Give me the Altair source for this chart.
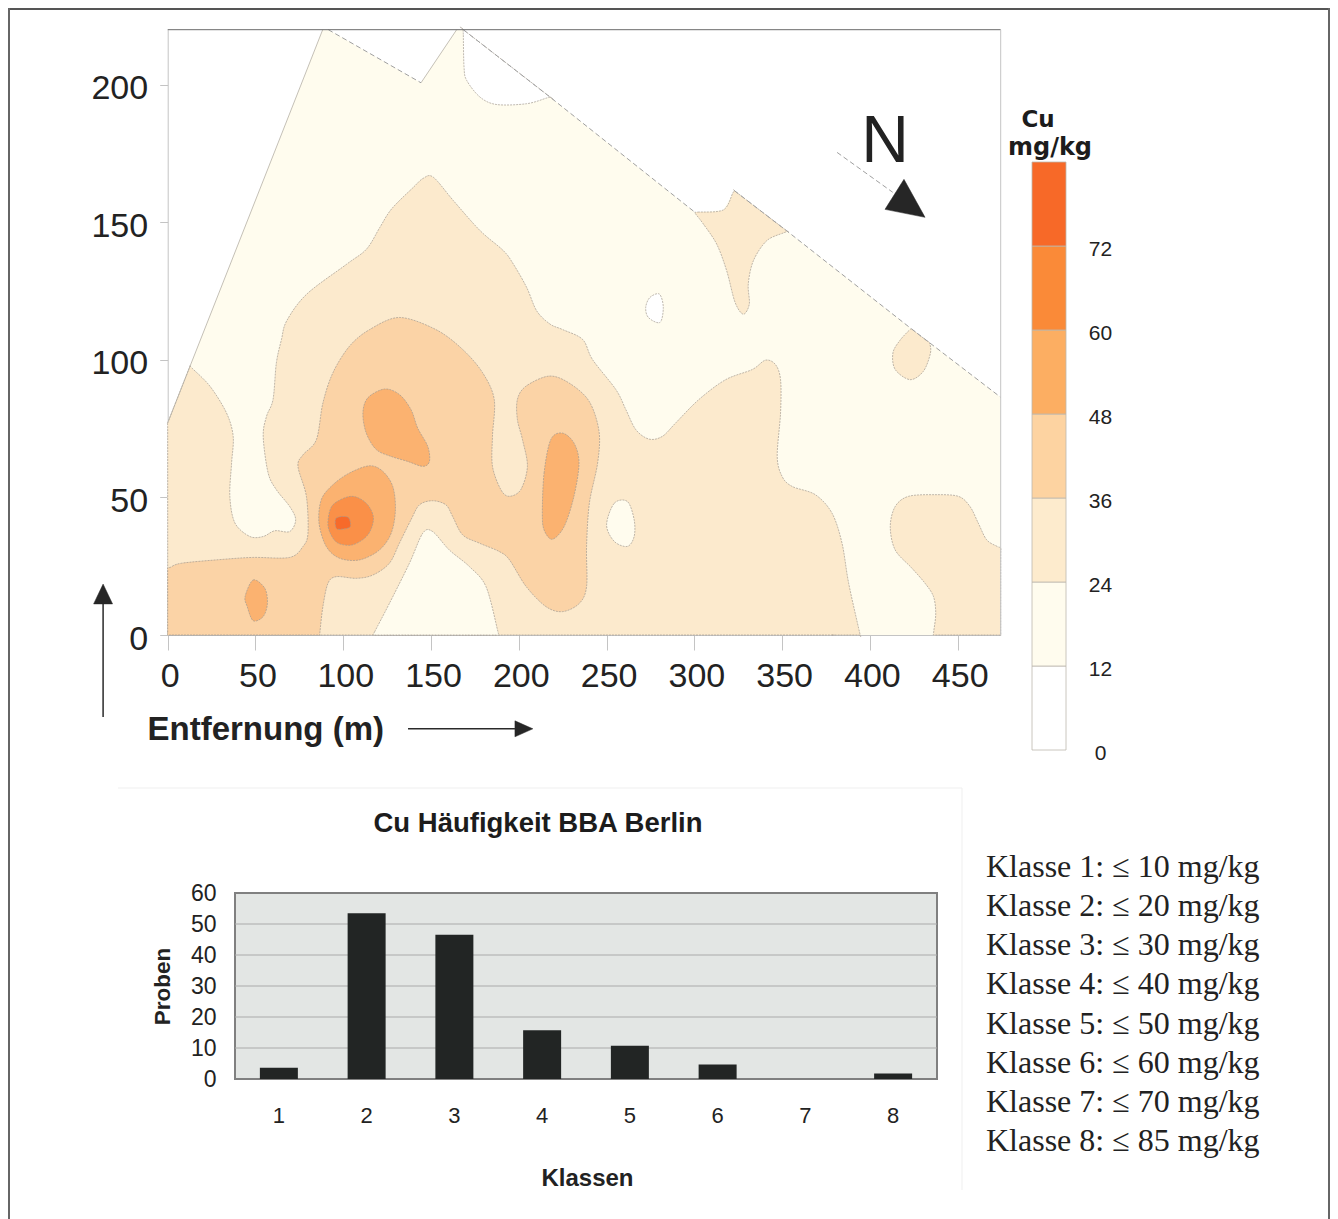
import altair as alt
import pandas as pd

# ---------- map data (x = Entfernung in m, y = m) ----------
C_WHITE = "#FFFFFF"
C_12 = "#FFFCEE"
C_24 = "#FCEACD"
C_36 = "#FBD3A6"
C_48 = "#FBB270"
C_60 = "#FA9048"
C_72 = "#F76A2A"

site = [(0,0),(0,77.1),(12.7,97.7),(88.3,220),(91.5,220),(144.3,200.7),(164.6,220),(168.4,220),
        (217.8,195.5),(300.4,153.6),(316.5,154.5),(322.8,161.5),(353,146.7),(423.8,111.2),(474.5,86.4),(474.5,0)]
hole_top = [(168.4,220),(168.4,218),(168.8,206.4),(170.3,201.6),(177.9,195.5),(187.4,192.8),(204.5,193.1),
            (216,195.2),(217.8,195.5),(215.9,196.5),(170.4,219)]
hole_oval = [(272.3,119.1),(274.7,122.7),(280.1,123.9),(282.3,119.1),(280.4,113.6),(273.8,115.4)]
l24_main = [(0,0),(0,1),(0,4),(0,15),(0,62),(0,73),(0,76),(0,77.1),(1,78.7),(11.7,96.1),(12.7,97.7),(14,96.9),(24.1,90.4),(33.5,80.7),(37.3,72.2),(36.4,62.5),
            (35.4,50.4),(38.3,40.7),(46.8,35.8),(54.4,35.8),(61,37.9),(69.5,37.6),(72.9,41.9),(69.5,46.7),
            (61.9,52.8),(57.2,58.9),(54.4,72.2),(56.3,79.5),(60,85.6),(61.9,98.9),(64.8,107.4),(67.8,114.2),
            (79.2,123.9),(102,134.8),(113.3,140.3),(120.9,148.2),(127.6,154.9),(139.9,162.7),(145.6,166),
            (151.3,166.4),(162.7,157.9),(177.9,147),(191.2,139.7),(196.9,134.8),(204.5,126.3),(210.2,117.8),
            (217.8,113),(225,111),(236.4,107.4),(242,100.1),(255.3,89.2),(261,81.9),(266.7,74.6),(274.2,71.2),
            (281.8,72.2),(289.4,77.1),(302.6,85.6),(317.8,92.8),(333,96.5),(340.5,99.9),(346.2,98.3),(349.1,92.8),
            (349.1,80.7),(347.2,64.9),(350,57.6),(355.7,54),(368.9,51),(378.4,44.3),(384.1,33.4),(387.9,18.8),
            (394.1,1),(394.5,0),(393.5,0),(390,0),(380,0),(350,0),(100,0),(40,0),(10,0),(3,0),(1,0)]
l24_bump = [(300.4,153.6),(302,153.7),(316.5,154.5),(321.8,160.5),(322.8,161.5),(324.6,160.6),(351.2,147.6),(353,146.7),(351,146.2),
            (341.2,143.3),(333.6,136),(330.7,127.5),(331.3,120.3),(327.9,116.6),(323.2,120.9),(318.4,132.4),(312.7,142.1),
            (305.1,149.4),(301,152.8)]
l24_oval = [(423.8,111.2),(425.6,110.3),(432.1,107.1),(433.9,106.2),(434.5,102.5),(430.5,95.9),(422.9,92.8),(414.4,96.5),
            (413.1,102.5),(417,107),(422.3,110.7)]
l24_east = [(474.5,31.6),(472.5,32.2),(466.5,34.6),(461.7,40.7),(457,46.7),(450.4,50.4),(437.1,51),(422,50.4),(414.4,46.7),
            (411.6,39.4),(414.4,30.9),(423.9,24.3),(431.4,18.8),(436.2,14),(437.5,7.9),(436.4,1.5),(436.2,0),(437.2,0),(440,0),
            (450,0),(465,0),(471,0),(473.5,0),(474.5,0),(474.5,1),(474.5,4),(474.5,12),(474.5,24),(474.5,29.6)]
l12_oval = [(250,40),(254.4,47.9),(261.9,48.5),(265.7,41.9),(265.7,35.8),(261.9,32.2),(254.4,34)]
l12_bottom = [(116.9,0),(117.9,1.2),(126.3,11.5),(137.7,26.1),(145.3,37),(150.9,37.6),(160.4,30.9),(171.8,24.9),(181.3,17.6),
              (188,1.5),(188.4,0),(187.4,0),(184,0),(175,0),(130,0),(121,0),(118,0)]
l36_main = [(0,0),(0,1),(0,4),(0,10),(0,20),(0,23.5),(0,24.3),(1.5,24.6),(8,26.1),(31.6,27.5),(48.7,28.2),(69.5,28.2),(77.1,32.2),(79.9,37),(79,50.4),(74.2,61.3),
            (77.1,65.5),(84.7,71),(88.4,84.3),(94.1,95.3),(103.6,105),(115,111),(132,115.4),(152.8,111),(168,103.8),
            (179.4,95.3),(186,85.6),(185,72.2),(185,61.3),(189.8,52.8),(194.5,50.4),(201.1,52.8),(204.9,61.3),(202.1,71),
            (199.2,78.3),(199.2,85.6),(204,90.4),(217.2,94.1),(228.6,91.6),(240,85),(245.7,74),(244.9,62.5),(240.2,47.9),
            (238.6,32.2),(238.6,17.6),(234.5,11.5),(225,8.5),(215.5,10.3),(204.2,17.6),(194.7,27.3),(189,30.3),(177.5,33.4),
            (168,36.4),(162.3,43.1),(158.5,47.3),(150.9,48.8),(143.4,47.3),(138.6,41.9),(132,33.4),(126.3,26.1),(116.9,21.8),
            (107.4,20.6),(96,21.2),(91.3,18.8),(88.4,10.3),(86.7,1),(86.6,0),(85.6,0),(82,0),(72,0),(40,0),(10,0),(3,0),(1,0)]
l48_a = [(111.2,80.7),(114,86.2),(123.5,89.4),(132,87.4),(138.6,81.9),(142.4,75.2),(148.1,68.6),(149.1,63.1),(145.3,61.3),
         (136.7,63.1),(127.3,64.9),(118.8,67.4),(113.1,73.4)]
l48_b = [(44.1,14),(48.7,20),(55.3,17),(56.8,11.5),(54.4,6.7),(48.7,5.2),(45.3,10.3)]
l48_c = [(213.4,44.3),(214.4,58.9),(218.2,71),(224.8,73.4),(231.4,69.8),(234.3,62.5),(231.4,50.4),(225.8,39.4),(219.1,34.8),(214.4,38.2)]
l48_d = [(86.2,40.7),(87.5,49.2),(94.1,54.6),(103.6,58.9),(115,61.5),(122.5,59.5),(128.2,54),(129.7,45.5),(127.3,37),(120.6,30.9),
         (109.3,27.3),(97.9,27.9),(90.3,32.2)]
l60_a = [(91.3,41.3),(94.1,47.3),(104.5,50.4),(113.1,47.9),(117.2,42.5),(114,36.4),(105.5,32.8),(97,33.4),(92.6,37)]
l72_a = [(96,42.5),(102.7,42.8),(104,39.4),(99.8,38.5),(96,38.8)]

filled_regions = [
    (l24_main, C_24), (l24_bump, C_24), (l24_oval, C_24), (l24_east, C_24),
    (hole_top, C_WHITE), (hole_oval, C_WHITE), (l12_oval, C_12), (l12_bottom, C_12),
    (l36_main, C_36), (l48_a, C_48), (l48_b, C_48), (l48_c, C_48), (l48_d, C_48),
    (l60_a, C_60), (l72_a, C_72),
]

edge_left = [(0,77.1),(88.3,220)]
edge_notch = [(144.3,200.7),(164.6,220)]
diag_a = [(91.5,220),(144.3,200.7)]
diag_b = [(168.4,220),(217.8,195.5),(300.4,153.6)]
diag_c = [(322.8,161.5),(353,146.7),(423.8,111.2),(474.5,86.4)]
north_line = [(381.3,175.4),(413,160.9)]
north_tri = [(419.4,165.6),(408.6,154.7),(431.4,151.8)]
arrow_up_line = [(-36.8,-29.8),(-36.8,11.3)]
arrow_up_tri = [(-36.8,18.5),(-42.2,11.3),(-31.4,11.3)]
arrow_right_line = [(136.9,-34.1),(197.8,-34.1)]
arrow_right_tri = [(208,-34.1),(197.8,-31.2),(197.8,-37)]
frame_top = [(0,220),(474.5,220)]
frame_right = [(474.5,220),(474.5,0)]

x_ticks = [0,50,100,150,200,250,300,350,400,450]
y_ticks = [0,50,100,150,200]

# ---------- colour bar ----------
cb_low = [0,12,24,36,48,60,72]
cb_high = [12,24,36,48,60,72,84]
cb_colors = ["#FFFFFF","#FFFCEE","#FDEBCD","#FDD3A1","#FCAE62","#FA8A38","#F76928"]
cb_ticks = [0,12,24,36,48,60,72]

# ---------- bar chart ----------
klassen = ["1","2","3","4","5","6","7","8"]
proben = [3.6,53.5,46.5,15.7,10.7,4.7,0,1.8]
bar_ticks = [0,10,20,30,40,50,60]
bar_grid = [10,20,30,40,50]
class_lines = ["Klasse 1: ≤ 10 mg/kg","Klasse 2: ≤ 20 mg/kg","Klasse 3: ≤ 30 mg/kg","Klasse 4: ≤ 40 mg/kg",
               "Klasse 5: ≤ 50 mg/kg","Klasse 6: ≤ 60 mg/kg","Klasse 7: ≤ 70 mg/kg","Klasse 8: ≤ 85 mg/kg"]

W, H = 1322, 1211
SANS = "Liberation Sans"

map_x = alt.Scale(domain=[0,474.5], range=[159.7,992.7])
map_y = alt.Scale(domain=[0,220], range=[627,21.7])

def frame(points):
    return pd.DataFrame({"x":[p[0] for p in points],"y":[p[1] for p in points],"i":list(range(len(points)))})

def enc(chart, axis_x=None, axis_y=None):
    return chart.encode(
        x=alt.X("x:Q", scale=map_x, axis=axis_x, title=None),
        y=alt.Y("y:Q", scale=map_y, axis=axis_y, title=None),
        order=alt.Order("i:Q"),
    )

axis_x = alt.Axis(values=x_ticks, orient="bottom", offset=627-H, grid=False, tickSize=15, tickColor="#c4c4c4",
                  domainColor="#c4c4c4", labelFontSize=34, labelFont=SANS, labelColor="#222222", labelPadding=9,
                  labelOffset=2, labelFlush=False, labelOverlap=False, title="Entfernung (m)", titleFont=SANS,
                  titleFontSize=33, titleFontWeight="bold", titleColor="#222222", titleX=139, titleY=104,
                  titleAlign="left", titleBaseline="alphabetic", titleAnchor="start")
axis_y = alt.Axis(values=y_ticks, orient="left", offset=-159.7, grid=False, tickSize=8, tickColor="#c4c4c4",
                  domainColor="#c4c4c4", labelFontSize=34, labelFont=SANS, labelColor="#222222", labelPadding=12,
                  labelOffset=4, labelFlush=False, labelOverlap=False, title=None)

map_axes = enc(alt.Chart(frame(frame_top)).mark_line(opacity=0), axis_x, axis_y)

map_layers = [
    enc(alt.Chart(frame(site)).mark_line(interpolate="linear-closed", fill=C_12, strokeWidth=0))
]
for pts, col in filled_regions:
    map_layers.append(enc(alt.Chart(frame(pts)).mark_line(interpolate="cardinal-closed", tension=0.05, fill=col,
                                                           stroke="#a39b90", strokeWidth=0.7, strokeDash=[2,1])))
for pts in [edge_left, edge_notch]:
    map_layers.append(enc(alt.Chart(frame(pts)).mark_line(stroke="#b5b0a6", strokeWidth=0.8)))
for pts in [diag_a, diag_b, diag_c, north_line]:
    map_layers.append(enc(alt.Chart(frame(pts)).mark_line(stroke="#a0a0a0", strokeWidth=1, strokeDash=[5,3])))
map_layers.append(enc(alt.Chart(frame(frame_top)).mark_line(stroke="#6a6a6a", strokeWidth=1)))
map_layers.append(enc(alt.Chart(frame(frame_right)).mark_line(stroke="#c4c4c4", strokeWidth=1)))
for pts in [arrow_up_line, arrow_right_line]:
    map_layers.append(enc(alt.Chart(frame(pts)).mark_line(stroke="#2a2a2a", strokeWidth=1.5)))
for pts in [north_tri, arrow_up_tri, arrow_right_tri]:
    map_layers.append(enc(alt.Chart(frame(pts)).mark_line(interpolate="linear-closed", fill="#262626", stroke="#262626", strokeWidth=0.5)))
map_layers.append(
    alt.Chart(pd.DataFrame({"x":[408.6],"y":[171.8],"t":["N"]})).mark_text(
        font=SANS, fontSize=66, color="#222222", align="center", baseline="alphabetic").encode(
        x=alt.X("x:Q", scale=map_x, axis=None), y=alt.Y("y:Q", scale=map_y, axis=None), text="t:N")
)
map_chart = alt.layer(*map_layers)

# colour bar
cb_y = alt.Scale(domain=[0,84], range=[742,154])
cb_df = pd.DataFrame({"low":cb_low,"high":cb_high,"c":cb_colors})
cb_chart = alt.Chart(cb_df).mark_rect(stroke="#bdb7ad", strokeWidth=0.8).encode(
    x=alt.value(1024), x2=alt.value(1058),
    y=alt.Y("low:Q", scale=cb_y, title=None,
            axis=alt.Axis(values=cb_ticks, orient="right", offset=1092-W, ticks=False, domain=False, grid=False,
                          labelFont=SANS, labelFontSize=21, labelColor="#222222", labelAlign="center",
                          labelPadding=0, labelOffset=3, labelOverlap=False, labelFlush=False, title=None)),
    y2="high:Q",
    fill=alt.Fill("c:N", scale=None),
)

# bar chart
bar_x = alt.Scale(domain=klassen, range=[227,929], paddingInner=0.567, paddingOuter=0.2835)
bar_y = alt.Scale(domain=[0,60], range=[1071,885])
bar_bg = alt.Chart(pd.DataFrame({"a":[0],"b":[60]})).mark_rect(fill="#E3E6E4", stroke="#808080", strokeWidth=2).encode(
    x=alt.value(227), x2=alt.value(929),
    y=alt.Y("a:Q", scale=bar_y, axis=None),
    y2="b:Q",
)
bar_axis_y = alt.Chart(pd.DataFrame({"a":[0]})).mark_rule(opacity=0).encode(
    y=alt.Y("a:Q", scale=bar_y, title=None,
            axis=alt.Axis(values=bar_ticks, orient="left", offset=-227, ticks=False, domain=False, grid=False,
                          labelFont=SANS, labelFontSize=23, labelColor="#222222", labelPadding=19, labelOverlap=False,
                          labelFlush=False, title="Proben", titleFont=SANS, titleFontSize=22.5, titleFontWeight="bold",
                          titleColor="#222222", titleX=-73, titleY=978, titleAlign="center", titleBaseline="middle")),
)
bar_rules = alt.Chart(pd.DataFrame({"g":bar_grid})).mark_rule(stroke="#aaaaaa", strokeWidth=1).encode(
    x=alt.value(227), x2=alt.value(929), y=alt.Y("g:Q", scale=bar_y, axis=None))
bars = alt.Chart(pd.DataFrame({"k":klassen,"p":proben})).mark_bar(color="#222524").encode(
    x=alt.X("k:N", scale=bar_x, sort=klassen,
            axis=alt.Axis(orient="bottom", offset=1071-H, ticks=False, domain=False, grid=False, labelAngle=0,
                          labelFont=SANS, labelFontSize=22, labelColor="#222222", labelPadding=26,
                          title="Klassen", titleFont=SANS, titleFontSize=24, titleFontWeight="bold", titleColor="#222222",
                          titleX=579, titleY=106, titleAlign="center", titleBaseline="alphabetic")),
    y=alt.Y("p:Q", scale=bar_y, axis=None),
)
bar_chart = alt.layer(bar_bg, bar_rules, bars)

# class list
text_y = alt.Scale(domain=[1,8], range=[869,1143])
class_chart = alt.Chart(pd.DataFrame({"n":list(range(1,9)),"t":class_lines})).mark_text(
    font="Liberation Serif", fontSize=32, color="#222222", align="left", baseline="alphabetic").encode(
    x=alt.value(978), y=alt.Y("n:Q", scale=text_y, axis=None), text="t:N")

# free labels and page frame
def label(text, x, y, **kw):
    return alt.Chart(pd.DataFrame({"t":[text]})).mark_text(align="center", baseline="alphabetic", color="#1c1c1c", **kw).encode(
        x=alt.value(x), y=alt.value(y), text="t:N")

labels = [
    label("Cu Häufigkeit BBA Berlin", 530, 824, font=SANS, fontSize=27.5, fontWeight="bold"),
    label("Cu", 1030, 119, font="DejaVu Sans", fontSize=23, fontWeight="bold"),
    label("mg/kg", 1042, 147, font="DejaVu Sans", fontSize=24, fontWeight="bold"),
]
def vrule(x, y1, y2, col, w):
    return alt.Chart(pd.DataFrame({"a":[0]})).mark_rule(stroke=col, strokeWidth=w).encode(
        x=alt.value(x), y=alt.value(y1), y2=alt.value(y2))
def hrule(y, x1, x2, col, w):
    return alt.Chart(pd.DataFrame({"a":[0]})).mark_rule(stroke=col, strokeWidth=w).encode(
        y=alt.value(y), x=alt.value(x1), x2=alt.value(x2))
frames = [
    hrule(1, 0, W, "#555555", 2), vrule(1, 0, H, "#666666", 2), vrule(W-1, 0, H, "#666666", 2),
    hrule(780, 110, 954, "#EFEFEF", 1), vrule(954, 780, 1182, "#EFEFEF", 1),
]

chart = alt.layer(map_chart, map_axes, cb_chart, bar_chart, bar_axis_y, class_chart, *labels, *frames).resolve_scale(
    x="independent", y="independent"
).properties(width=W, height=H, padding=0, autosize=alt.AutoSizeParams(type="none"),
             background="white").configure_view(stroke=None)

chart.save("out.html", embed_options={"renderer": "svg", "actions": False})
